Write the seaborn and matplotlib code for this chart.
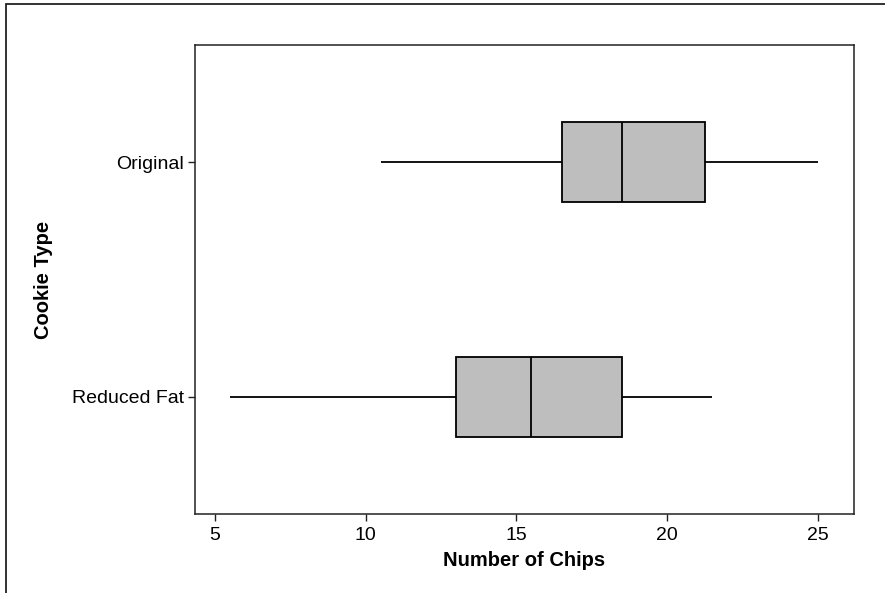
import matplotlib
matplotlib.use("Agg")
import matplotlib.pyplot as plt
from matplotlib.patches import Rectangle
import numpy as np
import pandas as pd
import seaborn as sns

# Five-number summaries
categories = ["Original", "Reduced Fat"]
mins = [10.5, 5.5]
q1s = [16.5, 13.0]
medians = [18.5, 15.5]
q3s = [21.25, 18.5]
maxs = [25.0, 21.5]
x_ticks = [5, 10, 15, 20, 25]

rows = []
for c, a, b, m, d, e in zip(categories, mins, q1s, medians, q3s, maxs):
    for v in (a, b, m, d, e):
        rows.append({"Cookie Type": c, "Number of Chips": v})
df = pd.DataFrame(rows)

sns.set_style("white")
plt.rcParams["font.family"] = ["Liberation Sans", "DejaVu Sans"]

fig = plt.figure(figsize=(8.85, 5.93), dpi=100)
ax = fig.add_axes([195 / 885, 1 - 514 / 593, (854 - 195) / 885, (514 - 45) / 593])

sns.boxplot(data=df, x="Number of Chips", y="Cookie Type", order=categories,
            orient="h", color="#BEBEBE", saturation=1, width=0.34,
            linecolor="black", linewidth=1.3, showcaps=False, whis=(0, 100),
            fliersize=0, ax=ax)

ax.set_xlim(4.34, 26.2)
ax.set_ylim(1.5, -0.5)
ax.set_xticks(x_ticks)
ax.set_xticklabels([str(t) for t in x_ticks])

for s in ax.spines.values():
    s.set_visible(True)
    s.set_color("#222222")
    s.set_linewidth(1.1)

ax.tick_params(axis="both", which="both", direction="out", length=5, width=1.0,
               color="#222222", labelsize=14, labelcolor="black",
               bottom=True, left=True)
ax.tick_params(axis="x", pad=4)
ax.tick_params(axis="y", pad=3)

ax.set_xlabel("Number of Chips", fontsize=14.5, fontweight="bold", color="black")
ax.set_ylabel("Cookie Type", fontsize=14.5, fontweight="bold", color="black")
ax.xaxis.set_label_coords(0.5, (514 - 551) / 469)
ax.yaxis.set_label_coords((53 - 195) / 659, 0.5)

# outer frame (left and top edges visible)
fig.add_artist(Rectangle((5.5 / 885, -0.5), 2, 1.5 - 3.5 / 593,
                         transform=fig.transFigure, fill=False,
                         edgecolor="#222222", linewidth=1.3))

fig.savefig("out.png", dpi=100, facecolor="white")
